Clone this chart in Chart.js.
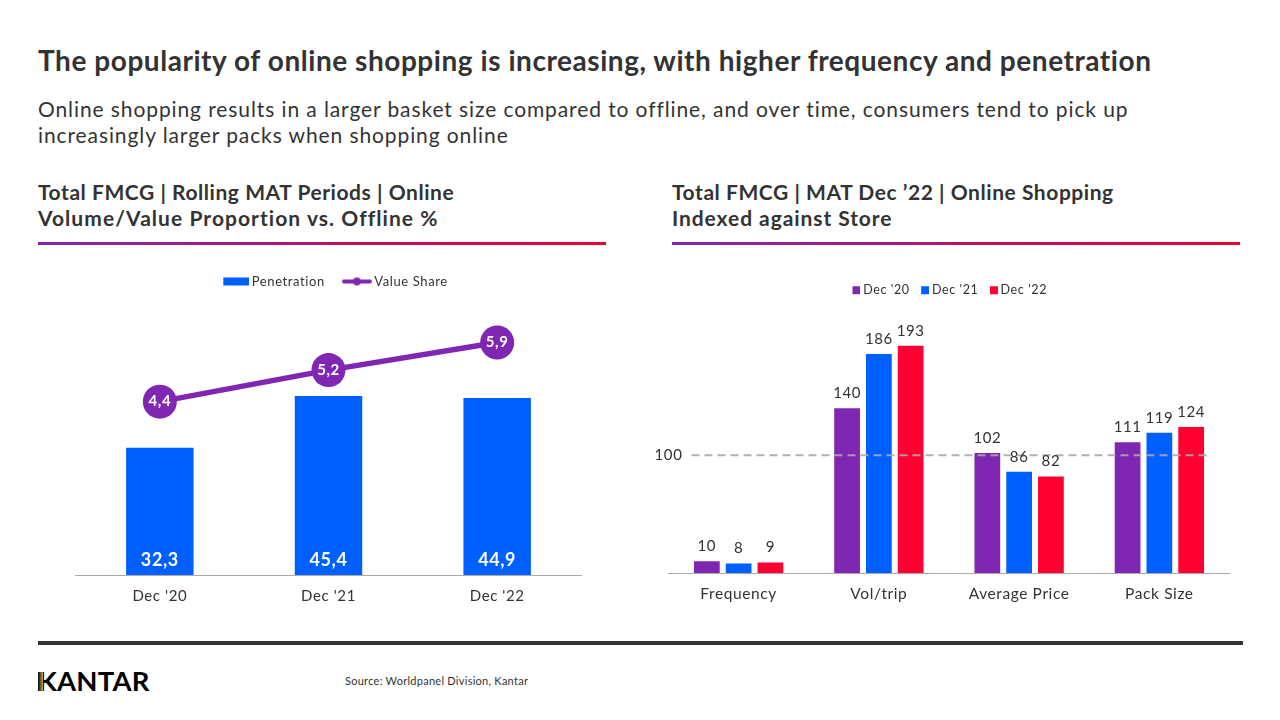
<!DOCTYPE html>
<html>
<head>
<meta charset="utf-8">
<title>Online shopping</title>
<script src="https://cdn.jsdelivr.net/npm/chart.js@4"></script>
<style>
    html, body { margin: 0; padding: 0; background: #fff; }
    body { width: 1280px; height: 720px; position: relative; overflow: hidden; font-family: Lato, sans-serif; color: #333; }
    .txt { position: absolute; white-space: nowrap; }
    .title { left: 38px; top: 43px; font-size: 28px; line-height: 34px; font-weight: 700; letter-spacing: 0.55px; }
    .sub { left: 38px; top: 96px; font-size: 21px; line-height: 26px; letter-spacing: 0.9px; }
    .head { top: 179px; font-size: 21px; line-height: 26px; font-weight: 700; letter-spacing: 0.55px; }
    .rule { position: absolute; top: 242px; width: 568px; height: 3px; background: linear-gradient(90deg, #7f27b0, #f0002c); }
    .foot { position: absolute; left: 38px; top: 641px; width: 1205px; height: 4px; background: #333; }
    .logo { left: 38px; top: 664px; font-size: 27.5px; line-height: 34px; font-weight: 700; color: #000; letter-spacing: 0.2px; }
    .stem { position: absolute; left: 38px; top: 672px; width: 5px; height: 19px; background: linear-gradient(90deg, #000, #c9a94e); }
    .source { left: 345px; top: 674px; font-size: 11px; line-height: 14px; letter-spacing: 0.27px; }
    canvas { position: absolute; }
    .box { position: absolute; }
</style>
</head>
<body>
<div class="txt title">The popularity of online shopping is increasing, with higher frequency and penetration</div>
<div class="txt sub">Online shopping results in a larger basket size compared to offline, and over time, consumers tend to pick up<br>increasingly larger packs when shopping online</div>
<div class="txt head" style="left:38px">Total FMCG | Rolling MAT Periods | Online<br><span style="letter-spacing:1.05px">Volume/Value Proportion vs. Offline %</span></div>
<div class="txt head" style="left:672px">Total FMCG | MAT Dec ’22 | Online Shopping<br><span style="letter-spacing:0.93px">Indexed against Store</span></div>
<div class="rule" style="left:38px"></div>
<div class="rule" style="left:672px"></div>

<div class="box" style="left:38px;top:258px;width:568px;height:362px"><canvas id="leftChart"></canvas></div>
<div class="box" style="left:640px;top:270px;width:600px;height:350px"><canvas id="rightChart"></canvas></div>

<div class="foot"></div>
<div class="txt logo">KANTAR</div>
<div class="stem"></div>
<div class="txt source">Source: Worldpanel Division, Kantar</div>

<script>
const PURPLE = "#7f27b2";
const BLUE = "#0060ff";
const RED = "#ff0032";
const TEXT = "#333333";
const FONT = "Lato, sans-serif";

// left chart
const periods = ["Dec '20", "Dec '21", "Dec '22"];
const penetration = [32.3, 45.4, 44.9];
const valueShare = [4.4, 5.2, 5.9];

// right chart
const measures = ["Frequency", "Vol/trip", "Average Price", "Pack Size"];
const dec20 = [10, 140, 102, 111];
const dec21 = [8, 186, 86, 119];
const dec22 = [9, 193, 82, 124];
const referenceIndex = 100;

const comma = v => v.toFixed(1).replace(".", ",");

// legend glyphs are right aligned in their canvas so they sit close to the text
function legendIcon(width, draw) {
    const c = document.createElement("canvas");
    c.width = width;
    c.height = 10;
    draw(c.getContext("2d"));
    return c;
}

const barIcon = legendIcon(34, g => {
    g.fillStyle = BLUE;
    g.fillRect(8, 1, 26, 8);
});

const lineIcon = legendIcon(34, g => {
    g.strokeStyle = PURPLE;
    g.lineWidth = 4;
    g.lineCap = "round";
    g.beginPath();
    g.moveTo(6, 5);
    g.lineTo(32, 5);
    g.stroke();
    g.fillStyle = PURPLE;
    g.beginPath();
    g.arc(19, 5, 4, 0, Math.PI * 2);
    g.fill();
});

const squareIcon = color => legendIcon(11, g => {
    g.fillStyle = color;
    g.fillRect(3, 1, 8, 8);
});

const spacing = px => ({
    id: "spacing",
    beforeLayout(chart) {
        chart.ctx.letterSpacing = px;
    }
});

const nudgeLegend = (dx, dy) => ({
    id: "nudgeLegend",
    afterLayout(chart) {
        chart.legend.left += dx;
        chart.legend.right += dx;
        chart.legend.top += dy;
        chart.legend.bottom += dy;
    }
});

const leftLabels = {
    id: "leftLabels",
    afterDatasetsDraw(chart) {
        const ctx = chart.ctx;
        ctx.save();
        ctx.fillStyle = "#fff";
        ctx.textAlign = "center";
        ctx.textBaseline = "middle";
        ctx.font = "700 18px " + FONT;
        chart.getDatasetMeta(0).data.forEach((bar, i) => {
            ctx.fillText(comma(penetration[i]), bar.x, chart.scales.y.bottom - 15);
        });
        ctx.font = "700 15px " + FONT;
        chart.getDatasetMeta(1).data.forEach((pt, i) => {
            ctx.fillText(comma(valueShare[i]), pt.x, pt.y);
        });
        ctx.restore();
    }
};

const rightLabels = {
    id: "rightLabels",
    afterDatasetsDraw(chart) {
        const ctx = chart.ctx;
        const y = chart.scales.y.getPixelForValue(referenceIndex);
        ctx.save();
        ctx.strokeStyle = "rgba(170,170,170,0.9)";
        ctx.lineWidth = 2;
        ctx.setLineDash([8, 5]);
        ctx.beginPath();
        ctx.moveTo(chart.chartArea.left + 23, y);
        ctx.lineTo(chart.chartArea.right - 19, y);
        ctx.stroke();
        ctx.setLineDash([]);
        ctx.fillStyle = TEXT;
        ctx.textAlign = "center";
        ctx.textBaseline = "middle";
        ctx.font = "400 15px " + FONT;
        ctx.fillText(String(referenceIndex), chart.chartArea.left, y);
        chart.data.datasets.forEach((ds, d) => {
            chart.getDatasetMeta(d).data.forEach((bar, i) => {
                ctx.fillText(String(ds.data[i]), bar.x, bar.y - 15);
            });
        });
        ctx.restore();
    }
};

new Chart(document.getElementById("leftChart"), {
    data: {
        labels: periods,
        datasets: [
            {
                type: "bar",
                label: "Penetration",
                data: penetration,
                backgroundColor: BLUE,
                yAxisID: "y",
                order: 2,
                categoryPercentage: 1,
                barPercentage: 0.4
            },
            {
                type: "line",
                label: "Value Share",
                data: valueShare,
                borderColor: PURPLE,
                backgroundColor: PURPLE,
                borderWidth: 5.5,
                pointRadius: 17,
                pointBorderWidth: 0,
                pointHoverRadius: 17,
                tension: 0,
                yAxisID: "y1",
                order: 1
            }
        ]
    },
    options: {
        responsive: true,
        maintainAspectRatio: false,
        animation: false,
        layout: { padding: { left: 37.5, right: 24.5, top: 0, bottom: 0 } },
        plugins: {
            tooltip: { enabled: false },
            legend: {
                position: "top",
                labels: {
                    usePointStyle: true,
                    pointStyleWidth: 26,
                    boxHeight: 10,
                    padding: 17,
                    color: TEXT,
                    font: { family: FONT, size: 13 },
                    sort: (a, b) => a.datasetIndex - b.datasetIndex,
                    generateLabels(chart) {
                        const items = Chart.defaults.plugins.legend.labels.generateLabels(chart);
                        items.forEach(item => {
                            item.pointStyle = item.datasetIndex === 0 ? barIcon : lineIcon;
                        });
                        return items;
                    }
                }
            }
        },
        scales: {
            x: {
                grid: { display: false },
                border: { color: "#aaaaaa", width: 1 },
                ticks: { color: TEXT, padding: 4, font: { family: FONT, size: 15 } },
                afterFit(scale) { scale.height = 45; }
            },
            y: { display: false, min: 0, max: 70.3 },
            y1: { display: false, min: 0, max: 7.03 }
        }
    },
    plugins: [spacing("0.6px"), nudgeLegend(5, 0), leftLabels]
});

const rightColors = [PURPLE, BLUE, RED];

new Chart(document.getElementById("rightChart"), {
    type: "bar",
    data: {
        labels: measures,
        datasets: [
            { label: "Dec '20", data: dec20, backgroundColor: PURPLE },
            { label: "Dec '21", data: dec21, backgroundColor: BLUE },
            { label: "Dec '22", data: dec22, backgroundColor: RED }
        ]
    },
    options: {
        responsive: true,
        maintainAspectRatio: false,
        animation: false,
        layout: { padding: { left: 28.5, right: 10.5, top: 0, bottom: 0 } },
        datasets: { bar: { categoryPercentage: 0.68, barPercentage: 0.81 } },
        plugins: {
            tooltip: { enabled: false },
            legend: {
                position: "top",
                labels: {
                    usePointStyle: true,
                    pointStyleWidth: 4,
                    boxHeight: 8,
                    padding: 12,
                    color: TEXT,
                    font: { family: FONT, size: 12.5 },
                    generateLabels(chart) {
                        const items = Chart.defaults.plugins.legend.labels.generateLabels(chart);
                        items.forEach(item => {
                            item.pointStyle = squareIcon(rightColors[item.datasetIndex]);
                        });
                        return items;
                    }
                }
            }
        },
        scales: {
            x: {
                grid: { display: false },
                border: { color: "#aaaaaa", width: 1 },
                ticks: { color: TEXT, padding: 4, font: { family: FONT, size: 15.5 } },
                afterFit(scale) { scale.height = 47; }
            },
            y: { display: false, min: 0, max: 228 }
        }
    },
    plugins: [spacing("0.6px"), nudgeLegend(1, 2), rightLabels]
});
</script>
</body>
</html>
